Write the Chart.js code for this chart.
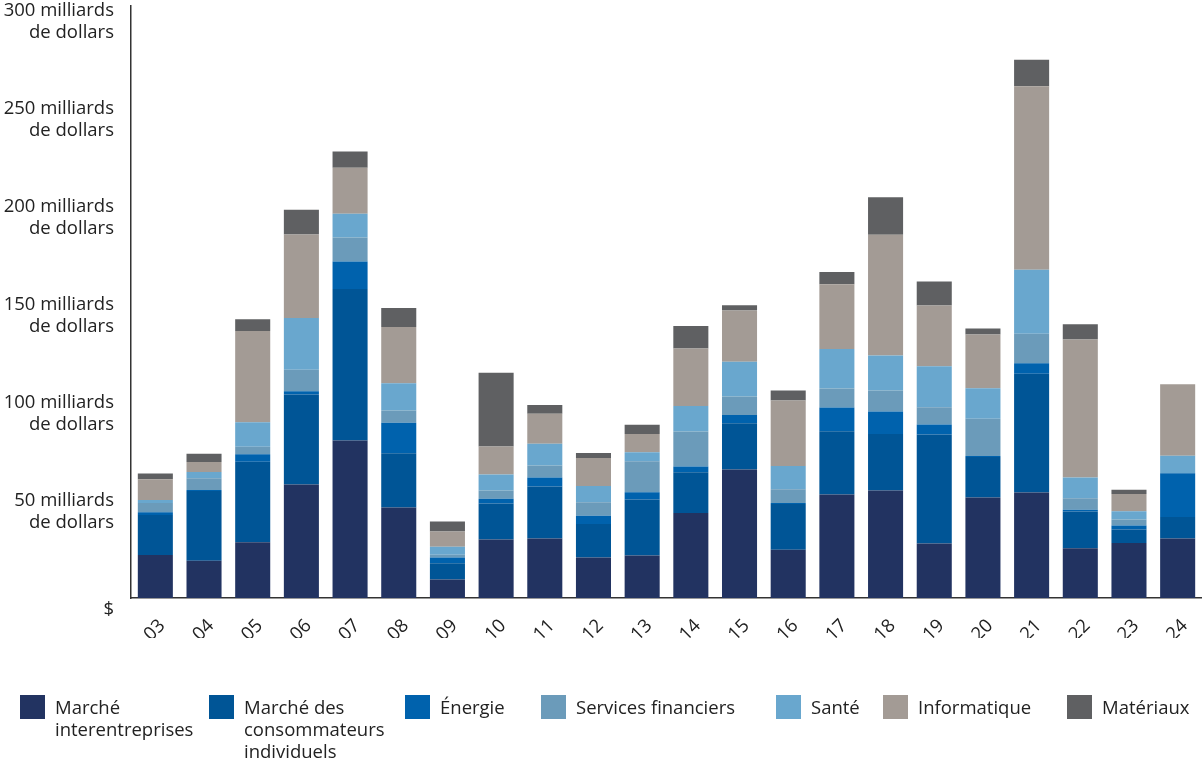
<!DOCTYPE html>
<html><head><meta charset="utf-8">
<script src="https://cdn.jsdelivr.net/npm/chart.js@4.4.1/dist/chart.umd.min.js"></script>
<style>
html,body{margin:0;padding:0;background:#fff;}
#wrap{position:relative;width:1202px;height:764px;overflow:hidden;}
#c{position:absolute;left:0;top:0;width:1202px;height:764px;}
.lg{position:absolute;top:695px;display:flex;align-items:flex-start;font-family:"Open Sans",sans-serif;font-size:18.5px;line-height:22px;color:#222;}
.sw{width:25px;height:24px;margin-right:10px;flex:none;}
.tx{white-space:pre-line;margin-top:1px;}
</style></head><body>
<div id="wrap"><canvas id="c" width="1202" height="764"></canvas><div id="legend"></div></div>
<script>
const years = ["03","04","05","06","07","08","09","10","11","12","13","14","15","16","17","18","19","20","21","22","23","24"];
const seriesNames = ["Marché\ninterentreprises","Marché des\nconsommateurs\nindividuels","Énergie","Services financiers","Santé","Informatique","Matériaux"];
const b2b       = [21.9,19.0,28.4,57.9,80.4,46.2,9.4,29.8,30.4,20.7,21.7,43.3,65.6,24.6,52.8,54.8,27.8,51.3,53.8,25.4,28.0,30.4];
const consumer  = [20.4,35.6,41.1,45.9,77.2,27.7,8.3,18.4,26.5,17.0,28.6,20.9,23.5,23.3,32.3,28.9,55.6,20.6,60.6,18.7,7.0,10.9];
const energie   = [1.5,0.5,3.8,1.7,14.1,15.5,2.9,2.4,4.6,4.3,3.7,2.9,4.2,0.5,12.1,11.4,5.1,0.5,5.4,0.9,2.0,22.4];
const finance   = [4.7,6.0,3.9,10.9,12.2,6.3,1.4,4.2,6.1,6.8,15.8,17.9,9.5,7.1,9.7,10.7,8.8,19.1,15.0,5.9,3.1,0];
const sante     = [1.5,3.2,12.4,26.5,12.1,13.9,4.1,8.2,11.1,8.3,4.6,12.9,17.7,11.9,20.1,17.9,20.9,15.5,32.7,10.6,4.1,8.9];
const info      = [10.6,5.1,46.6,42.5,23.5,28.6,7.8,14.3,15.3,14.3,9.2,29.4,26.2,33.3,33.0,61.6,31.0,27.4,93.5,70.4,8.8,36.5];
const materiaux = [2.9,4.2,6.0,12.6,8.3,9.7,5.1,37.6,4.4,2.6,4.8,11.4,2.7,5.1,6.3,19.2,12.2,3.1,13.6,7.7,2.2,0];
const yTickValues = [0,50,100,150,200,250,300];
const yTickLabels = ["$",["50 milliards","de dollars"],["100 milliards","de dollars"],["150 milliards","de dollars"],["200 milliards","de dollars"],["250 milliards","de dollars"],["300 milliards","de dollars"]];

const colors = ["#223361","#005596","#0062ad","#6b9bba","#69a7ce","#a39b95","#5f6062"];
const seriesData = [b2b,consumer,energie,finance,sante,info,materiaux];
const legendLeft = [20,209,405,541,776,883,1067];
const font = {family:"Open Sans", size:18.5};
const textColor = "#222";

const datasets = seriesData.map((d,i)=>({
  label: seriesNames[i].replace(/\n/g," "),
  data: d,
  backgroundColor: colors[i],
  borderWidth: 0,
  barPercentage: 0.72,
  categoryPercentage: 1.0
}));

new Chart(document.getElementById('c'), {
  type: 'bar',
  data: { labels: years, datasets },
  options: {
    responsive: false,
    animation: false,
    devicePixelRatio: 1,
    layout: { padding: { top: 6, right: 0, bottom: 126, left: 0 } },
    plugins: { legend: { display: false }, tooltip: { enabled: false } },
    scales: {
      x: {
        stacked: true,
        grid: { display: false, drawTicks: false },
        border: { display: true, color: "#333", width: 1.5 },
        ticks: { minRotation: 45, maxRotation: 45, padding: 17, labelOffset: 7, font, color: textColor, autoSkip: false },
        afterFit(s) { s.height = 40; s.paddingLeft = 0; s.paddingRight = 0; }
      },
      y: {
        stacked: true,
        min: 0, max: 302,
        afterBuildTicks(s) { s.ticks = yTickValues.map(v => ({ value: v })); },
        grid: { display: false, drawTicks: false },
        border: { display: true, color: "#333", width: 1.5 },
        ticks: {
          padding: 17, labelOffset: 12, font, color: textColor,
          callback: (v, i) => yTickLabels[yTickValues.indexOf(v)]
        },
        afterFit(s) { s.width = 131; s.paddingTop = 0; s.paddingBottom = 0; }
      }
    }
  }
});

const lg = document.getElementById('legend');
seriesNames.forEach((n,i)=>{
  const d = document.createElement('div');
  d.className = 'lg';
  d.style.left = legendLeft[i] + 'px';
  const sw = document.createElement('div'); sw.className='sw'; sw.style.background = colors[i];
  const tx = document.createElement('div'); tx.className='tx'; tx.textContent = n;
  d.appendChild(sw); d.appendChild(tx); lg.appendChild(d);
});
</script>
</body></html>
